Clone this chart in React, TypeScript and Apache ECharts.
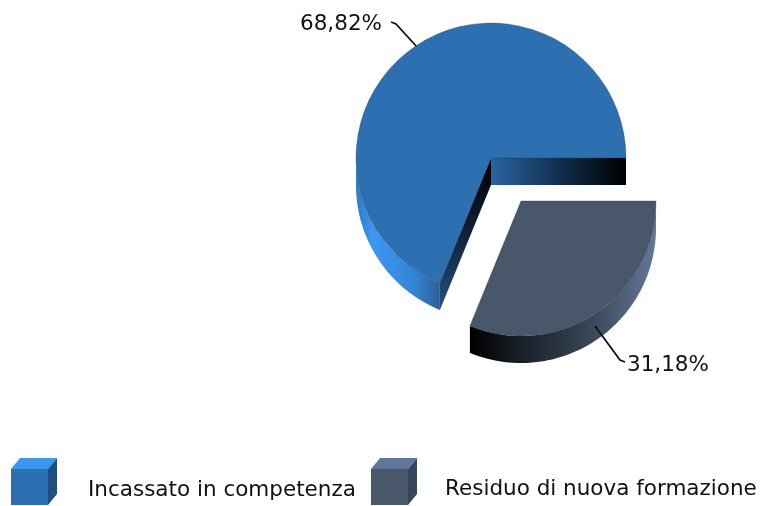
import React, { useEffect, useRef } from "react";
import * as echarts from "echarts";

const categories = ["Residuo di nuova formazione", "Incassato in competenza"];
const values = [31.18, 68.82];

const FONT = "'DejaVu Sans', sans-serif";
const R = 135;
const DEPTH = 27;
const centers: [number, number][] = [[521, 201], [491, 158]];
const topColors = ["#48586a", "#2c70b2"];

const grad = (x2: number, y2: number, stops: [number, string][]) =>
  new echarts.graphic.LinearGradient(0, 0, x2, y2, stops.map(([offset, color]) => ({ offset, color })));

const pt = (c: [number, number], deg: number, dy = 0): number[] => [
  c[0] + R * Math.cos((deg * Math.PI) / 180),
  c[1] + dy + R * Math.sin((deg * Math.PI) / 180),
];

// Outer rim + visible inner walls, derived from the slice values.
function renderSide(params: any, api: any) {
  const i = params.dataIndex;
  const total = values.reduce((a, b) => a + b, 0);
  const start = (values.slice(0, i).reduce((a, b) => a + b, 0) / total) * 360;
  const end = start + (api.value(0) / total) * 360;
  const c = centers[i];
  const children: any[] = [];
  const rimEnd = Math.min(end, 180);
  const top: number[][] = [];
  const bottom: number[][] = [];
  for (let a = start; a <= rimEnd + 0.001; a += (rimEnd - start) / 60) {
    top.push(pt(c, a));
    bottom.unshift(pt(c, a, DEPTH));
  }
  const rimFill =
    i === 0
      ? grad(1, 0, [[0, "#000000"], [0.3, "#1a222c"], [0.65, "#3a4757"], [1, "#63799a"]])
      : grad(1, 0, [[0, "#2f78c0"], [0.2, "#3c98f0"], [0.7, "#3284d4"], [1, "#2a6096"]]);
  if (i === 1) {
    const tip = pt(c, start);
    children.push({
      type: "rect",
      shape: { x: c[0], y: c[1], width: R, height: DEPTH },
      style: { fill: grad(1, 0, [[0, "#28649f"], [0.5, "#12304f"], [1, "#000000"]]) },
    });
    children.push({
      type: "polygon",
      shape: { points: [c, [c[0], c[1] + DEPTH], [tip[0], tip[1] + DEPTH], tip] },
      style: { fill: grad(0, 1, [[0, "#000000"], [0.5, "#0f2238"], [1, "#24507f"]]) },
    });
  }
  children.push({ type: "polygon", shape: { points: [...top, ...bottom] }, style: { fill: rimFill } });
  return { type: "group", children };
}

function cube(x: number, front: string, topC: string, side: string) {
  const y = 469, w = 37, h = 36, dx = 9, dy = 11;
  return [
    { type: "polygon", shape: { points: [[x, y], [x + dx, y - dy], [x + w + dx, y - dy], [x + w, y]] }, style: { fill: topC } },
    { type: "polygon", shape: { points: [[x + w, y], [x + w + dx, y - dy], [x + w + dx, y + h - dy], [x + w, y + h]] }, style: { fill: side } },
    { type: "rect", shape: { x, y, width: w, height: h }, style: { fill: front } },
  ];
}

const pieSeries = (visible: number) => ({
  type: "pie",
  center: centers[visible],
  radius: [0, R],
  startAngle: 0,
  clockwise: true,
  silent: true,
  z: 5,
  label: {
    show: true,
    fontFamily: FONT,
    fontSize: 21.5,
    color: "#111111",
    formatter: (p: any) => `${p.value.toFixed(2).replace(".", ",")}%`,
  },
  labelLine: { show: true, length: 28, length2: 8, lineStyle: { color: "#111111", width: 1.8 } },
  labelLayout: (p: any) => {
    if (p.dataIndex !== visible) return {};
    return visible === 0
      ? {
          x: 627,
          y: 363,
          align: "left",
          verticalAlign: "middle",
          labelLinePoints: [[595, 326], [620, 360], [625, 362]],
        }
      : {
          x: 382,
          y: 22,
          align: "right",
          verticalAlign: "middle",
          labelLinePoints: [[417, 47], [396, 24], [391, 22]],
        };
  },
  data: categories.map((name, j) =>
    j === visible
      ? { name, value: values[j], itemStyle: { color: topColors[j], borderColor: "rgba(20,40,70,0.5)", borderWidth: 0.6 } }
      : { name, value: values[j], itemStyle: { color: "rgba(0,0,0,0)" }, label: { show: false }, labelLine: { show: false } }
  ),
});

const legendAt = (name: string, left: number) => ({
  data: [name],
  left,
  top: 472,
  padding: 0,
  itemWidth: 70,
  itemHeight: 30,
  icon: "rect",
  itemStyle: { opacity: 0 },
  selectedMode: false,
  textStyle: { fontFamily: FONT, fontSize: 21.5, color: "#111111" },
});

export default function App() {
  const ref = useRef<HTMLDivElement>(null);
  useEffect(() => {
    const chart = echarts.init(ref.current!, null, { renderer: "svg" });
    chart.setOption({
      animation: false,
      backgroundColor: "#ffffff",
      legend: [legendAt(categories[1], 12), legendAt(categories[0], 370)],
      series: [
        {
          type: "custom",
          coordinateSystem: "none",
          silent: true,
          z: 1,
          renderItem: renderSide,
          encode: { value: 0 },
          data: values.map((v) => [v]),
        },
        pieSeries(1),
        pieSeries(0),
      ],
      graphic: [
        ...cube(11, "#2c70b2", "#3a96ee", "#1f4f82"),
        ...cube(371, "#48586a", "#60769a", "#38465a"),
      ],
    });
    return () => chart.dispose();
  }, []);
  return (
    <div
      ref={ref}
      style={{ position: "absolute", left: 0, top: 0, width: 769, height: 506, filter: "blur(0.5px)" }}
    />
  );
}
